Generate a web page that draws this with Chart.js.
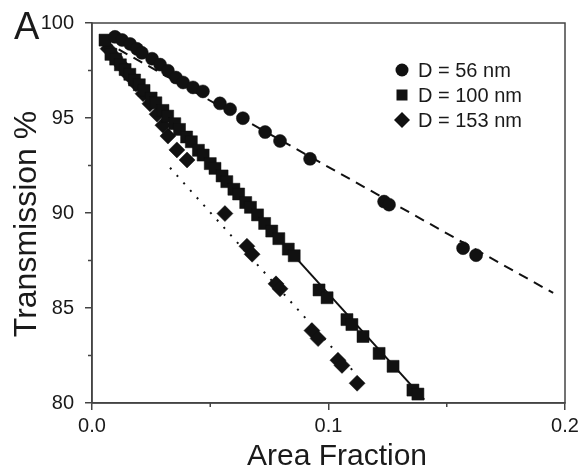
<!DOCTYPE html>
<html>
<head>
<meta charset="utf-8">
<script src="https://cdn.jsdelivr.net/npm/chart.js@4.4.0/dist/chart.umd.min.js"></script>
<style>
html, body { margin: 0; padding: 0; background: #fff; }
#wrap { width: 584px; height: 470px; }
</style>
</head>
<body>
<div id="wrap"><canvas id="transChart"></canvas></div>
<script>
// D = 56 nm (circles)
const x56 = [0.0097, 0.0127, 0.0161, 0.0190, 0.0211, 0.0254, 0.0288, 0.0321, 0.0355, 0.0385, 0.0427,
    0.0469, 0.0541, 0.0584, 0.0638, 0.0732, 0.0795, 0.0922, 0.1235, 0.1256, 0.1569, 0.1624];
const y56 = [99.27, 99.11, 98.90, 98.64, 98.43, 98.12, 97.81, 97.49, 97.13, 96.87, 96.61,
    96.40, 95.77, 95.46, 94.99, 94.26, 93.79, 92.85, 90.60, 90.44, 88.15, 87.78];

// D = 100 nm (squares)
const x100 = [0.0055, 0.008, 0.010, 0.012, 0.014, 0.016, 0.018, 0.020, 0.022, 0.025, 0.027, 0.030,
    0.032, 0.035, 0.037, 0.040, 0.042, 0.045, 0.047, 0.050, 0.052, 0.055, 0.057, 0.060, 0.062, 0.065,
    0.067, 0.070, 0.073, 0.076, 0.079, 0.083, 0.0855, 0.0960, 0.0994, 0.1078, 0.1099, 0.1146, 0.1214,
    0.1273, 0.1357, 0.1378];
const y100 = [99.10, 98.35, 98.10, 97.80, 97.55, 97.30, 97.00, 96.75, 96.45, 96.05, 95.80, 95.40,
    95.10, 94.70, 94.40, 94.00, 93.75, 93.30, 93.05, 92.60, 92.35, 91.95, 91.65, 91.25, 91.00, 90.55,
    90.30, 89.90, 89.45, 89.05, 88.65, 88.10, 87.75, 85.95, 85.54, 84.39, 84.13, 83.50, 82.61,
    81.93, 80.68, 80.47];

// D = 153 nm (diamonds)
const x153 = [0.0068, 0.0097, 0.0127, 0.0156, 0.0186, 0.0216, 0.0245, 0.0275, 0.0300, 0.0321, 0.0359,
    0.0402, 0.0562, 0.0655, 0.0677, 0.0778, 0.0795, 0.0930, 0.0956, 0.1040, 0.1057, 0.1121];
const y153 = [98.65, 98.20, 97.75, 97.25, 96.80, 96.28, 95.75, 95.20, 94.62, 94.05, 93.32,
    92.79, 89.97, 88.25, 87.83, 86.27, 86.01, 83.81, 83.39, 82.25, 81.98, 81.04];

// fitted lines (end points)
const fit56X = [0.005, 0.195];
const fit56Y = [99.05, 85.79];
const fit100X = [0.005, 0.1405];
const fit100Y = [98.81, 80.18];
const fit153X = [0.033, 0.112];
const fit153Y = [92.38, 81.47];

const legendLabels = ['D = 56 nm', 'D = 100 nm', 'D = 153 nm'];
const xTicksMinor = [0.05, 0.15];
const yTicksMinor = [82.5, 87.5, 92.5, 97.5];

const ink = '#111';
const textColor = '#1a1a1a';
const axisColor = '#444';
const fontFamily = "'Liberation Sans', Arial, Helvetica, sans-serif";

const pts = (xs, ys) => xs.map((x, i) => ({ x: x, y: ys[i] }));

const markerSet = (label, xs, ys, style, r) => ({
    label: label,
    data: pts(xs, ys),
    pointStyle: style,
    pointRadius: r,
    pointHoverRadius: r,
    backgroundColor: ink,
    borderColor: ink,
    borderWidth: 0.5,
    showLine: false,
    order: 1
});

const lineSet = (xs, ys, dash) => ({
    label: '',
    data: pts(xs, ys),
    showLine: true,
    pointRadius: 0,
    borderColor: ink,
    borderWidth: 2,
    borderDash: dash,
    fill: false,
    order: 2
});

// extra drawing: frame, minor ticks, legend, titles, panel label
const decor = {
    id: 'decor',
    afterDraw(chart) {
        const ctx = chart.ctx;
        const a = chart.chartArea;
        const xs = chart.scales.x, ys = chart.scales.y;
        ctx.save();
        ctx.strokeStyle = axisColor;
        ctx.lineWidth = 1.5;
        ctx.strokeRect(a.left, a.top, a.right - a.left, a.bottom - a.top);
        ctx.beginPath();
        xTicksMinor.forEach(v => {
            const px = xs.getPixelForValue(v);
            ctx.moveTo(px, a.bottom);
            ctx.lineTo(px, a.bottom + 4);
        });
        yTicksMinor.forEach(v => {
            const py = ys.getPixelForValue(v);
            ctx.moveTo(a.left, py);
            ctx.lineTo(a.left - 4, py);
        });
        ctx.stroke();

        // legend
        ctx.fillStyle = ink;
        const lx = 402, ly = [70, 95, 120];
        ctx.beginPath();
        ctx.arc(lx, ly[0], 6.5, 0, Math.PI * 2);
        ctx.fill();
        ctx.fillRect(lx - 5.5, ly[1] - 5.5, 11, 11);
        ctx.beginPath();
        ctx.moveTo(lx - 8, ly[2]);
        ctx.lineTo(lx, ly[2] - 8);
        ctx.lineTo(lx + 8, ly[2]);
        ctx.lineTo(lx, ly[2] + 8);
        ctx.closePath();
        ctx.fill();
        ctx.fillStyle = textColor;
        ctx.font = '20px ' + fontFamily;
        ctx.textAlign = 'left';
        ctx.textBaseline = 'middle';
        legendLabels.forEach((t, i) => ctx.fillText(t, 418, ly[i] + 1));

        // axis titles
        ctx.font = '30px ' + fontFamily;
        ctx.textAlign = 'center';
        ctx.textBaseline = 'alphabetic';
        ctx.fillText('Area Fraction', 337, 465);
        ctx.save();
        ctx.translate(36, 224);
        ctx.rotate(-Math.PI / 2);
        ctx.font = '32px ' + fontFamily;
        ctx.fillText('Transmission %', 0, 0);
        ctx.restore();

        // panel label
        ctx.font = '38px ' + fontFamily;
        ctx.textAlign = 'left';
        ctx.fillText('A', 14, 39);
        ctx.restore();
    }
};

const ctxTrans = document.getElementById('transChart').getContext('2d');
new Chart(ctxTrans, {
    type: 'scatter',
    data: {
        datasets: [
            lineSet(fit56X, fit56Y, [10, 7]),
            lineSet(fit100X, fit100Y, []),
            lineSet(fit153X, fit153Y, [2, 8]),
            markerSet(legendLabels[0], x56, y56, 'circle', 6.5),
            markerSet(legendLabels[1], x100, y100, 'rect', 8.5),
            markerSet(legendLabels[2], x153, y153, 'rectRot', 8)
        ]
    },
    options: {
        responsive: true,
        maintainAspectRatio: false,
        animation: false,
        layout: { padding: { top: 19, right: 19, left: 0, bottom: 0 } },
        plugins: {
            legend: { display: false },
            tooltip: { enabled: false }
        },
        scales: {
            x: {
                type: 'linear',
                min: 0,
                max: 0.2,
                afterFit: s => { s.height = 67; },
                border: { color: axisColor, width: 1.5 },
                grid: { drawOnChartArea: false, tickLength: 7, color: axisColor, lineWidth: 1.5 },
                ticks: {
                    stepSize: 0.1,
                    padding: 4,
                    color: textColor,
                    font: { family: fontFamily, size: 20 },
                    callback: v => v.toFixed(1)
                }
            },
            y: {
                min: 80,
                max: 100,
                afterFit: s => { s.width = 92; },
                border: { color: axisColor, width: 1.5 },
                grid: { drawOnChartArea: false, tickLength: 7, color: axisColor, lineWidth: 1.5 },
                ticks: {
                    stepSize: 5,
                    padding: 11,
                    color: textColor,
                    font: { family: fontFamily, size: 20 }
                }
            }
        }
    },
    plugins: [decor]
});
</script>
</body>
</html>
